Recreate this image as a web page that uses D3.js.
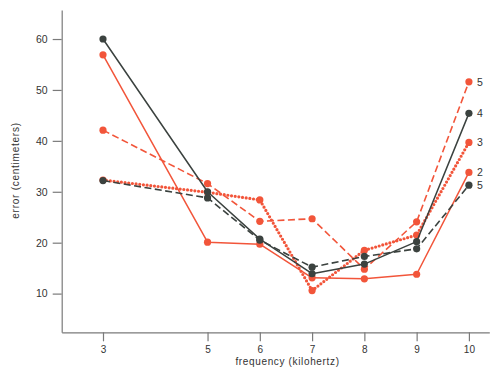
<!DOCTYPE html>
<html>
<head>
<meta charset="utf-8">
<script src="https://cdn.jsdelivr.net/npm/d3@7"></script>
<style>
  html, body { margin: 0; padding: 0; background: #fff; }
  svg { display: block; font-family: "Liberation Sans", Arial, Helvetica, sans-serif; }
</style>
</head>
<body>
<svg id="chart" width="500" height="382"></svg>
<script>
// ---- data ----
const frequencies = [3, 5, 6, 7, 8, 9, 10];
const yTicks = [10, 20, 30, 40, 50, 60];
const seriesLabels = ["5", "4", "3", "2", "5"];
const orangeDashed = [42.1, 31.6, 24.2, 24.7, 14.8, 24.1, 51.6];   // label 5 (top)
const darkSolid    = [60.0, 30.0, 20.7, 13.9, 15.8, 20.2, 45.4];   // label 4
const orangeDotted = [32.3, 29.9, 28.4, 10.6, 18.5, 21.5, 39.7];   // label 3
const orangeSolid  = [56.9, 20.1, 19.7, 13.1, 12.9, 13.8, 33.8];   // label 2
const darkDashed   = [32.2, 28.8, 20.5, 15.2, 17.3, 18.8, 31.3];   // label 5 (bottom)
const xTitle = "frequency (kilohertz)";
const yTitle = "error (centimeters)";

// ---- styles ----
const ORANGE = "#f2553a";
const DARK = "#3b423f";
const styles = [
  { values: orangeDashed, color: ORANGE, width: 1.6, dash: "7,3.5", cap: "butt", label: seriesLabels[0] },
  { values: orangeSolid,  color: ORANGE, width: 1.5, dash: null, cap: "butt", label: seriesLabels[3] },
  { values: orangeDotted, color: ORANGE, width: 3.2, dash: "0,3.7", cap: "round", label: seriesLabels[2] },
  { values: darkDashed,   color: DARK,   width: 1.6, dash: "7,3.5", cap: "butt", label: seriesLabels[4] },
  { values: darkSolid,    color: DARK,   width: 1.5, dash: null, cap: "butt", label: seriesLabels[1] }
];

const svg = d3.select("#chart");
const x = d3.scaleLinear().domain([2.21, 10.39]).range([61.7, 489.3]);
const y = d3.scaleLinear().domain([2.4, 65.7]).range([332.3, 10]);

const axisColor = "#7a7a7a";
const textColor = "#333";

// x axis
const gx = svg.append("g").attr("transform", "translate(0,332.3)")
  .call(d3.axisBottom(x).tickValues(frequencies).tickSize(9).tickSizeOuter(0).tickPadding(5).tickFormat(d3.format("d")));
gx.selectAll("path, line").attr("stroke", axisColor).attr("stroke-width", 1.2);
gx.selectAll("text").attr("fill", textColor).attr("font-size", 10).attr("font-family", null);

// y axis
const gy = svg.append("g").attr("transform", "translate(61.7,0)")
  .call(d3.axisLeft(y).tickValues(yTicks).tickSize(9).tickSizeOuter(0).tickPadding(5).tickFormat(d3.format("d")));
gy.selectAll("path, line").attr("stroke", axisColor).attr("stroke-width", 1.2);
gy.selectAll("text").attr("fill", textColor).attr("font-size", 10.5).attr("font-family", null);

// titles
svg.append("text").attr("x", 287.5).attr("y", 365).attr("text-anchor", "middle")
  .attr("font-size", 10).attr("letter-spacing", 0.65).attr("fill", textColor).text(xTitle);
svg.append("text").attr("transform", "translate(18.5,170.5) rotate(-90)").attr("text-anchor", "middle")
  .attr("font-size", 10).attr("letter-spacing", 0.75).attr("fill", textColor).text(yTitle);

// series
const line = d3.line().x((d, i) => x(frequencies[i])).y(d => y(d));
styles.forEach(s => {
  const g = svg.append("g");
  g.append("path").datum(s.values).attr("d", line)
    .attr("fill", "none").attr("stroke", s.color).attr("stroke-width", s.width)
    .attr("stroke-linecap", s.cap).attr("stroke-linejoin", "round")
    .attr("stroke-dasharray", s.dash);
  g.selectAll("circle").data(s.values).join("circle")
    .attr("cx", (d, i) => x(frequencies[i])).attr("cy", d => y(d))
    .attr("r", 3.6).attr("fill", s.color);
  const last = s.values[s.values.length - 1];
  g.append("text").attr("x", x(frequencies[frequencies.length - 1]) + 8)
    .attr("y", y(last)).attr("dy", "0.36em")
    .attr("font-size", 10.5).attr("fill", textColor).text(s.label);
});
</script>
</body>
</html>
